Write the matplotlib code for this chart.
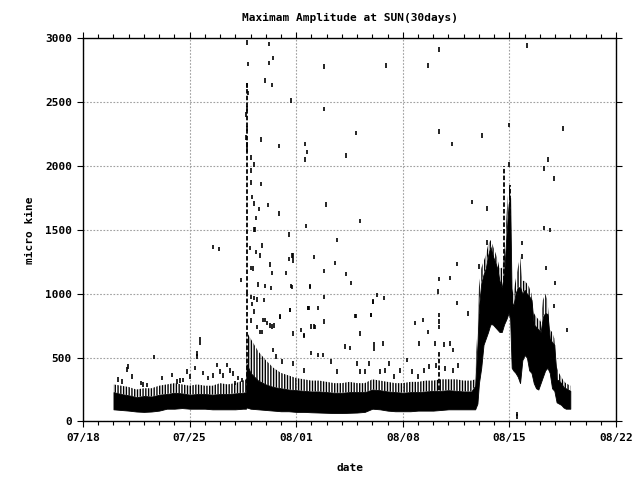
import matplotlib
matplotlib.use("Agg")
import matplotlib.pyplot as plt
import numpy as np

plt.rcParams['font.family'] = ['DejaVu Sans Mono']
plt.rcParams['font.weight'] = 'bold'
plt.rcParams['hatch.linewidth'] = 1.0

# time axis: days since 07/18 00:00
XTICK_DAYS = [0, 7, 14, 21, 28, 35]
XTICK_LABELS = ["07/18", "07/25", "08/01", "08/08", "08/15", "08/22"]
YTICKS = [0, 500, 1000, 1500, 2000, 2500, 3000]

# dense band of 1-minute maxima: bottom, solid top, and top of the hairy fringe
band_t = [2.0, 2.5, 3.0, 3.5, 4.0, 4.5, 5.0, 5.5, 6.0, 6.5, 7.0, 7.5, 8.0, 8.5, 9.0, 9.5, 10.0, 10.5, 10.7,
          10.75, 11.0, 11.5, 12.0, 12.5, 13.0, 13.5, 14.0, 14.5, 15.0, 15.5, 16.0, 16.5, 17.0, 17.5, 18.0,
          18.5, 19.0, 19.5, 20.0, 20.5, 21.0, 21.5, 22.0, 22.5, 23.0, 23.5, 24.0, 24.5, 25.0, 25.5,
          25.75, 25.9, 26.0, 26.15, 26.3, 26.45, 26.6, 26.75, 26.9, 27.05, 27.2, 27.35, 27.5, 27.65, 27.8,
          27.95, 28.05, 28.15, 28.25, 28.4, 28.55, 28.7, 28.85, 29.0, 29.15, 29.3, 29.45, 29.6, 29.75, 29.9,
          30.05, 30.2, 30.35, 30.5, 30.65, 30.8, 30.95, 31.1, 31.25, 31.4, 31.55, 31.7, 31.85, 32.0]
band_lo = [95, 90, 85, 78, 75, 78, 85, 100, 100, 105, 100, 100, 100, 95, 95, 95, 95, 100, 100,
           110, 100, 95, 90, 85, 80, 80, 75, 75, 72, 70, 68, 66, 66, 68, 70,
           75, 100, 95, 85, 80, 80, 80, 85, 85, 85, 90, 95, 95, 95, 95,
           95, 140, 300, 420, 600, 650, 700, 760, 760, 740, 720, 700, 700, 760, 800,
           850, 800, 420, 400, 380, 350, 300, 480, 520, 500, 400, 380, 300, 260, 250,
           300, 350, 400, 420, 380, 260, 240, 150, 140, 130, 110, 100, 100, 100]
band_hi = [230, 215, 205, 190, 200, 195, 210, 215, 225, 220, 210, 215, 215, 210, 215, 215, 220, 225, 230,
           450, 380, 320, 290, 270, 260, 250, 245, 240, 235, 235, 230, 225, 225, 230, 230,
           230, 250, 245, 235, 230, 225, 230, 230, 235, 240, 240, 245, 240, 235, 235,
           280, 600, 900, 1080, 1150, 1200, 1300, 1370, 1300, 1250, 1200, 1100, 1050, 1150, 1450,
           1700, 1750, 950, 900, 1000, 1050, 1050, 1000, 1030, 1000, 980, 950, 760, 740, 720,
           700, 820, 850, 840, 650, 620, 600, 330, 320, 300, 270, 260, 250, 240]
band_fuzz = [290, 280, 270, 250, 260, 260, 280, 290, 300, 290, 280, 290, 280, 280, 300, 290, 300, 320, 330,
             700, 650, 550, 480, 420, 380, 360, 340, 330, 320, 320, 310, 300, 300, 310, 300,
             300, 330, 320, 310, 300, 300, 310, 310, 320, 320, 330, 330, 330, 320, 320,
             330, 720, 1050, 1200, 1250, 1300, 1380, 1420, 1380, 1330, 1280, 1200, 1200, 1300, 1600,
             1840, 1840, 1050, 1000, 1100, 1200, 1290, 1100, 1100, 1080, 1050, 1000, 850, 820, 800,
             780, 950, 1000, 950, 720, 700, 650, 430, 380, 350, 320, 300, 290, 280]

# long near-continuous streaks (event columns)
streak_t = [10.75, 10.78, 23.4, 27.67, 28.02]
streak_lo = [250, 1000, 250, 1050, 1050]
streak_hi = [1000, 2650, 560, 2000, 1850]

# isolated short spikes
spike_t = [2.3, 2.54, 2.87, 2.98, 3.24, 3.8, 3.95, 4.18, 4.66, 5.2, 5.82, 6.2, 6.4, 6.58, 6.8, 7.03,
           7.36, 7.46, 7.46, 7.68, 7.68, 7.9, 8.2, 8.56, 8.78, 9.0, 9.2, 9.43, 9.65, 9.87, 10.0, 10.2,
           10.42, 8.55, 8.95,
           10.79, 10.85, 10.75, 10.85, 10.78, 10.72, 10.78, 10.72, 10.75, 10.78,
           11.05, 11.2, 11.0, 11.05, 11.71, 11.07, 11.25, 12.17, 11.56, 12.89, 11.38, 11.2, 11.3,
           13.53, 14.66, 11.77, 10.94, 11.38, 11.64, 13.74, 13.53, 13.8, 12.3, 11.05, 11.16, 12.41,
           13.35, 10.4, 11.49, 11.93, 12.37, 13.68, 14.88, 11.05, 11.25, 11.45, 11.87, 14.77, 13.57,
           12.91, 11.1, 11.2, 11.82, 12.1, 12.4, 12.52, 11.05, 11.4, 11.6, 15.21, 14.3, 14.5,
           12.19, 12.5, 12.19, 11.97, 12.43, 13.68, 11.71, 12.89, 14.56, 14.73, 14.6, 17.29, 15.85,
           19.87, 22.67, 23.4, 29.17, 15.85, 17.95, 23.4, 26.2, 24.2, 31.54, 30.55, 30.29, 30.95,
           15.98, 25.56, 26.55, 18.21, 30.29, 30.68, 16.7, 15.19, 16.57, 15.85, 17.29, 17.62, 24.53,
           23.4, 24.12, 28.85, 30.42, 31.01, 14.93, 13.7, 19.32, 19.78, 19.06, 15.85, 14.79, 15.45,
           24.53, 18.93, 17.88, 15.85, 21.82, 22.34, 30.95, 25.3, 13.77,
           11.95, 12.3, 12.94, 13.6, 14.86, 11.78, 13.77, 15.0, 15.17, 14.53, 17.9, 18.19, 18.91,
           19.06, 19.1, 19.1, 19.72, 22.63, 23.4, 23.4, 23.4, 22.08, 23.11, 23.72, 24.3, 23.33,
           31.76, 28.52, 28.47,
           12.49, 12.7, 13.1, 13.8, 14.5, 15.0, 15.45, 15.78, 16.3, 16.65, 17.2, 17.5, 17.97, 18.2,
           18.5, 18.8, 19.5, 19.8, 20.1, 20.4, 20.8, 21.3, 21.6, 22.0, 22.4, 22.7, 23.2, 23.8, 24.1,
           24.3, 24.6,
           28.0, 28.0, 26.0, 26.1, 26.55, 28.8]
spike_v = [330, 312, 409, 430, 351, 300, 290, 285, 503, 340, 364, 312, 320, 325, 390, 351,
           419, 508, 530, 615, 645, 380, 340, 360, 442, 390, 360, 442, 400, 377, 300, 340,
           325, 1365, 1350,
           2967, 2798, 2628, 2571, 2450, 2400, 2291, 2220, 2166, 2127,
           2066, 2009, 1965, 1871, 1858, 1756, 1704, 1693, 1662, 1625, 1591, 1500, 1500,
           1461, 1530, 1375, 1357, 1325, 1299, 1300, 1270, 1260, 1226, 1200, 1195, 1161,
           1161, 1108, 1070, 1060, 1045, 1060, 1060, 975, 965, 955, 950, 887, 873,
           821, 920, 860, 795, 770, 743, 750, 790, 740, 700, 738, 717, 677,
           2954, 2845, 2806, 2667, 2633, 2510, 2205, 2155, 2171, 2108, 2048, 2080, 2775,
           2785, 2785, 2910, 2940, 2445, 2257, 2268, 2236, 2171, 2291, 2048, 1980, 1900,
           1696, 1717, 1665, 1568, 1513, 1497, 1419, 1286, 1239, 1176, 1153, 1082, 1231,
           1114, 1122, 1396, 1200, 1082, 1051, 1051, 988, 965, 934, 973, 887, 887,
           926, 832, 824, 782, 771, 795, 905, 847, 1300,
           795, 750, 816, 873, 887, 700, 690, 743, 743, 670, 826, 690, 834,
           938, 605, 573, 612, 699, 834, 780, 740, 612, 612, 600, 560, 1017,
           717, 60, 38,
           560, 508, 470, 455, 400, 535, 520, 520, 470, 390, 587, 574, 455, 390,
           390, 455, 390, 400, 455, 350, 400, 480, 390, 350, 400, 430, 440, 415, 612,
           400, 440,
           2320, 2009, 1214, 823, 1400, 1292]

fig = plt.figure(figsize=(6.4, 4.8), dpi=100)
ax = fig.add_axes([0.1297, 0.1219, 0.8328, 0.7989])

t = np.array(band_t)
ax.fill_between(t, band_lo, band_hi, color="black", linewidth=0.6, zorder=3)
ax.fill_between(t, band_hi, band_fuzz, facecolor="none", edgecolor="black",
                hatch="||||||", linewidth=0, zorder=3)

ax.vlines(streak_t, streak_lo, streak_hi, color="black", linewidth=1.3,
          linestyles=(0, (2.5, 1.2)), zorder=3)
sv = np.array(spike_v)
ax.vlines(spike_t, sv - 18, sv + 18, color="black", linewidth=1.2, zorder=3)

ax.set_xlim(0, 35)
ax.set_ylim(0, 3000)
ax.set_xticks(XTICK_DAYS)
ax.set_xticklabels(XTICK_LABELS)
ax.set_xticks(np.arange(0, 36, 1), minor=True)
ax.set_yticks(YTICKS)
ax.set_yticklabels([str(v) for v in YTICKS])

ax.tick_params(axis="both", which="both", direction="out", top=True, right=True,
               labelsize=8, colors="black", width=0.8, pad=4)
ax.tick_params(axis="both", which="major", length=4)
ax.tick_params(axis="x", which="minor", length=3)
for s in ax.spines.values():
    s.set_linewidth(1.0)

ax.grid(True, which="major", color="#a0a0a0", linestyle=(0, (1.5, 1.5)), linewidth=0.8, zorder=0)
ax.set_axisbelow(True)

ax.set_title("Maximam Amplitude at SUN(30days)", fontsize=8, fontweight="bold", pad=12)
ax.set_xlabel("date", fontsize=8, fontweight="bold", labelpad=15)
ax.set_ylabel("micro kine", fontsize=8, fontweight="bold", labelpad=7)

fig.savefig("out.png", dpi=100)
